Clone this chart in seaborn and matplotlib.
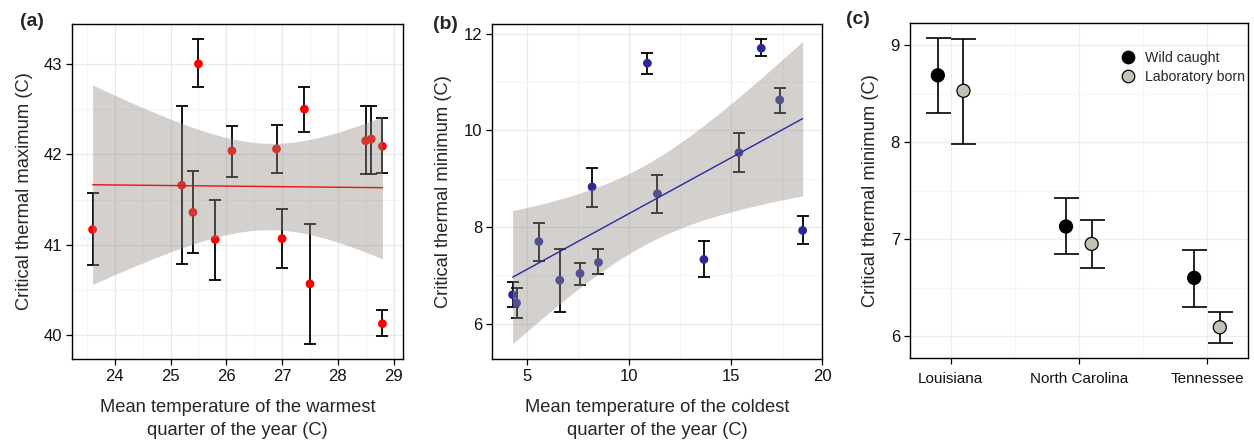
import numpy as np
import pandas as pd
import matplotlib
matplotlib.use("Agg")
import matplotlib.pyplot as plt
from matplotlib.ticker import MultipleLocator, FixedLocator
from matplotlib.lines import Line2D
import seaborn as sns

# ---------------- data ----------------
# (a) CTmax vs mean temperature of warmest quarter
a_x = [23.6, 25.2, 25.4, 25.5, 25.8, 26.1, 26.9, 27.0, 27.4, 27.5, 28.5, 28.6, 28.8, 28.8]
a_y = [41.17, 41.66, 41.36, 43.00, 41.06, 42.04, 42.06, 41.07, 42.50, 40.57, 42.15, 42.17, 42.09, 40.13]
a_lo = [40.78, 40.79, 40.91, 42.74, 40.61, 41.75, 41.79, 40.75, 42.25, 39.91, 41.78, 41.78, 41.79, 39.99]
a_hi = [41.57, 42.54, 41.82, 43.27, 41.50, 42.31, 42.32, 41.40, 42.74, 41.23, 42.54, 42.54, 42.40, 40.28]

# (b) CTmin vs mean temperature of coldest quarter
b_x = [10.90, 16.46, 17.36, 15.37, 8.20, 11.39, 18.48, 13.66, 5.60, 6.62, 7.61, 8.51, 4.32, 4.51]
b_y = [11.39, 11.70, 10.63, 9.54, 8.83, 8.69, 7.93, 7.33, 7.70, 6.90, 7.04, 7.27, 6.60, 6.43]
b_lo = [11.17, 11.54, 10.36, 9.14, 8.41, 8.29, 7.65, 6.96, 7.29, 6.24, 6.81, 7.03, 6.34, 6.12]
b_hi = [11.61, 11.88, 10.88, 9.94, 9.23, 9.08, 8.22, 7.71, 8.09, 7.55, 7.25, 7.54, 6.86, 6.73]

# (c) CTmin by state and origin
states = ["Louisiana", "North Carolina", "Tennessee"]
groups = ["Wild caught", "Laboratory born"]
wild_y = [8.69, 7.13, 6.60]
wild_lo = [8.30, 6.85, 6.30]
wild_hi = [9.08, 7.42, 6.89]
lab_y = [8.53, 6.95, 6.09]
lab_lo = [7.98, 6.70, 5.93]
lab_hi = [9.06, 7.20, 6.25]

# ---------------- style ----------------
sns.set_theme(style="white")
plt.rcParams["font.family"] = ["Liberation Sans", "DejaVu Sans"]
plt.rcParams["axes.edgecolor"] = "black"
plt.rcParams["axes.linewidth"] = 1.0

LABEL_FS = 13.2
TICK_FS = 12
T975 = 2.1788  # t quantile, df = 12

BAND_COLOR = (146 / 255, 139 / 255, 131 / 255)
BAND_ALPHA = 0.4

fig = plt.figure(figsize=(12.54, 4.40), dpi=100)
axA = fig.add_axes([0.0574, 0.184, 0.2640, 0.7614])
axB = fig.add_axes([0.3923, 0.184, 0.2636, 0.7614])
axC = fig.add_axes([0.7254, 0.1857, 0.2698, 0.7627])


def style_axes(ax):
    ax.set_axisbelow(True)
    ax.grid(which="major", color="#e9e9e9", linewidth=0.9)
    ax.grid(which="minor", color="#f4f4f2", linewidth=0.8)
    ax.tick_params(which="major", direction="out", length=4, width=0.9,
                   color="black", labelsize=TICK_FS, labelcolor="#111111",
                   bottom=True, left=True, pad=3)
    ax.tick_params(which="minor", length=0)
    for s in ax.spines.values():
        s.set_color("black")
        s.set_linewidth(1.0)


def ols_band(ax, x, y, color, zorder):
    x = np.asarray(x, float)
    y = np.asarray(y, float)
    n = len(x)
    b1, b0 = np.polyfit(x, y, 1)
    res = y - (b0 + b1 * x)
    s = np.sqrt(np.sum(res ** 2) / (n - 2))
    sxx = np.sum((x - x.mean()) ** 2)
    xs = np.linspace(x.min(), x.max(), 200)
    yh = b0 + b1 * xs
    se = s * np.sqrt(1.0 / n + (xs - x.mean()) ** 2 / sxx)
    ax.fill_between(xs, yh - T975 * se, yh + T975 * se, color=BAND_COLOR,
                    alpha=BAND_ALPHA, linewidth=0, zorder=zorder)
    ax.plot(xs, yh, color=color, linewidth=1.0, zorder=zorder + 1)


# ---------------- (a) ----------------
dfa = pd.DataFrame({"x": a_x, "y": a_y, "lo": a_lo, "hi": a_hi})
axA.errorbar(dfa["x"], dfa["y"], yerr=[dfa["y"] - dfa["lo"], dfa["hi"] - dfa["y"]],
             fmt="none", ecolor="black", elinewidth=1.3, capsize=4, capthick=1.3, zorder=2)
sns.scatterplot(data=dfa, x="x", y="y", ax=axA, color="#ff0000", s=40,
                edgecolor="none", zorder=3, legend=False)
ols_band(axA, a_x, a_y, "#ee1111", 4)
axA.set_xlim(23.23, 29.17)
axA.set_ylim(39.74, 43.44)
axA.xaxis.set_major_locator(MultipleLocator(1))
axA.xaxis.set_minor_locator(MultipleLocator(0.5))
axA.yaxis.set_major_locator(MultipleLocator(1))
axA.yaxis.set_minor_locator(MultipleLocator(0.5))
style_axes(axA)
axA.set_xlabel("Mean temperature of the warmest\nquarter of the year (C)",
               fontsize=LABEL_FS, labelpad=11, linespacing=1.45)
axA.set_ylabel("Critical thermal maximum (C)", fontsize=LABEL_FS, labelpad=8)

# ---------------- (b) ----------------
dfb = pd.DataFrame({"x": b_x, "y": b_y, "lo": b_lo, "hi": b_hi})
axB.errorbar(dfb["x"], dfb["y"], yerr=[dfb["y"] - dfb["lo"], dfb["hi"] - dfb["y"]],
             fmt="none", ecolor="black", elinewidth=1.3, capsize=4, capthick=1.3, zorder=2)
sns.scatterplot(data=dfb, x="x", y="y", ax=axB, color="#2a2a96", s=40,
                edgecolor="none", zorder=3, legend=False)
ols_band(axB, b_x, b_y, "#2a2aa0", 4)
b_xmax = 19.45
axB.set_xlim(3.31, b_xmax)
axB.set_ylim(5.27, 12.2)
axB.xaxis.set_major_locator(FixedLocator([5, 10, 15, b_xmax]))
axB.set_xticklabels(["5", "10", "15", "20"])
axB.xaxis.set_minor_locator(FixedLocator([7.5, 12.5, 17.5]))
axB.yaxis.set_major_locator(MultipleLocator(2))
axB.yaxis.set_minor_locator(FixedLocator([7, 9, 11]))
style_axes(axB)
axB.set_xlabel("Mean temperature of the coldest\nquarter of the year (C)",
               fontsize=LABEL_FS, labelpad=11, linespacing=1.45)
axB.set_ylabel("Critical thermal minimum (C)", fontsize=LABEL_FS, labelpad=8)

# ---------------- (c) ----------------
pos = np.arange(len(states))
dodge = 0.1
rows = []
for i, st in enumerate(states):
    rows.append({"state": st, "group": groups[0], "pos": pos[i] - dodge,
                 "y": wild_y[i], "lo": wild_lo[i], "hi": wild_hi[i]})
    rows.append({"state": st, "group": groups[1], "pos": pos[i] + dodge,
                 "y": lab_y[i], "lo": lab_lo[i], "hi": lab_hi[i]})
dfc = pd.DataFrame(rows)
axC.errorbar(dfc["pos"], dfc["y"], yerr=[dfc["y"] - dfc["lo"], dfc["hi"] - dfc["y"]],
             fmt="none", ecolor="black", elinewidth=1.2, capsize=9, capthick=1.2, zorder=2)
palette = {groups[0]: "black", groups[1]: "#c4c1b9"}
sns.scatterplot(data=dfc, x="pos", y="y", hue="group", palette=palette, ax=axC,
                s=88, edgecolor="black", linewidth=0.9, zorder=3, legend=False)
axC.set_xlim(-0.32, 2.32)
axC.set_ylim(5.77, 9.233)
axC.xaxis.set_major_locator(FixedLocator(pos))
axC.set_xticklabels(states)
axC.xaxis.set_minor_locator(FixedLocator([0.5, 1.5]))
axC.yaxis.set_major_locator(MultipleLocator(1))
axC.yaxis.set_minor_locator(MultipleLocator(0.5))
style_axes(axC)
axC.grid(which="major", color="#eeede8", linewidth=0.9)
axC.grid(which="minor", color="#f5f5f1", linewidth=0.8)
axC.tick_params(axis="x", labelsize=11, pad=6)
axC.set_xlabel("")
axC.set_ylabel("Critical thermal minimum (C)", fontsize=LABEL_FS, labelpad=8)
handles = [Line2D([], [], linestyle="none", marker="o", markersize=9,
                  markerfacecolor=palette[g], markeredgecolor="black",
                  markeredgewidth=0.9, label=g) for g in groups]
axC.legend(handles=handles, loc="upper right", frameon=False, fontsize=10.2,
           handletextpad=0.2, borderaxespad=0.3, labelspacing=0.35,
           bbox_to_anchor=(1.02, 0.945))

# panel letters
fig.text(0.016, 0.950, "(a)", fontsize=14, fontweight="bold", va="center", ha="left")
fig.text(0.345, 0.945, "(b)", fontsize=14, fontweight="bold", va="center", ha="left")
fig.text(0.675, 0.955, "(c)", fontsize=14, fontweight="bold", va="center", ha="left")

fig.savefig("out.png", dpi=100)
